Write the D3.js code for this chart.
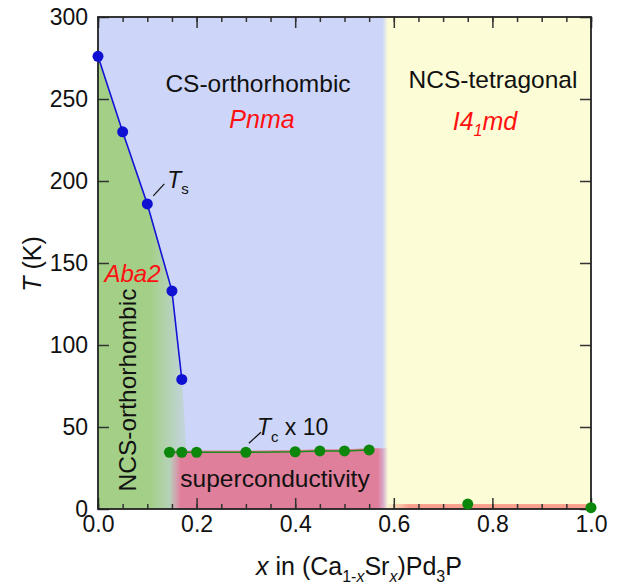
<!DOCTYPE html>
<html>
<head>
<meta charset="utf-8">
<script src="https://cdn.jsdelivr.net/npm/d3@7"></script>
<style>
body{margin:0;background:#fff;}
svg text{font-family:"Liberation Sans",Arial,Helvetica,sans-serif;}
</style>
</head>
<body>
<svg id="chart" width="618" height="588"></svg>
<script>
//------------DATA-----------
// structural transition Ts
var tsX=[0.0,0.05,0.10,0.15,0.17];
var tsT=[276,230,186,133,79];
// superconducting Tc (x 10)
var tcX=[0.145,0.17,0.20,0.30,0.40,0.45,0.50,0.55,0.75,1.0];
var tcT=[34.6,34.6,34.6,34.6,34.9,35.4,35.4,36.0,3.0,0.8];
var tcLinked=8; // first 8 points joined by the line
// phase boundaries
var phaseEdge=0.582;   // orthorhombic / tetragonal
var greenFoot=0.187;   // NCS-orthorhombic boundary at T=0
var stripT=3;          // Tc region for tetragonal side
// ticks
var xTicks=[0,0.2,0.4,0.6,0.8,1.0];
var xMinor=d3.range(0,1.0001,0.05);
var yTicks=[0,50,100,150,200,250,300];

//------------SETUP-----------
var margin={"top":17,"left":98};
var chartWidth=493, chartHeight=492;
var xScale=d3.scaleLinear().domain([0,1]).range([margin.left,margin.left+chartWidth]);
var yScale=d3.scaleLinear().domain([0,300]).range([margin.top+chartHeight,margin.top]);
var x0=xScale(0), x1=xScale(1), yTop=yScale(300), yBot=yScale(0);

var colBlue="#cdd6f8", colYellow="#fcfcd6", colGreen="#a3cf87", colPink="#e07f9b", colSalmon="#f9a08c";
var red="#ff1010", ink="#111";

var svg=d3.select("#chart");
var defs=svg.append("defs");
defs.append("clipPath").attr("id","plotClip").append("rect")
    .attr("x",x0).attr("y",yTop).attr("width",chartWidth).attr("height",chartHeight);

function grad(id,from,to,stops){
    var g=defs.append("linearGradient").attr("id",id)
        .attr("gradientUnits","userSpaceOnUse")
        .attr("x1",xScale(from)).attr("x2",xScale(to)).attr("y1",0).attr("y2",0);
    stops.forEach(function(s){
        g.append("stop").attr("offset",(s[0]-from)/(to-from))
            .attr("stop-color",s[1]).attr("stop-opacity",s[2]==null?1:s[2]);
    });
}
grad("greenGrad",0.105,0.2,[[0.105,colGreen],[0.2,colBlue]]);
grad("yellowGrad",phaseEdge-0.005,phaseEdge+0.006,[[phaseEdge-0.005,colBlue],[phaseEdge+0.006,colYellow]]);
grad("pinkGrad",0.145,0.588,[[0.145,colPink,0],[0.168,colPink,1],[0.568,colPink,1],[0.588,colPink,0]]);
grad("stripGrad",phaseEdge,0.63,[[phaseEdge,colSalmon,0],[0.63,colSalmon,1]]);

var plot=svg.append("g").attr("clip-path","url(#plotClip)");

//------------REGIONS-----------
plot.append("rect").attr("x",x0).attr("y",yTop)
    .attr("width",xScale(phaseEdge)-x0).attr("height",chartHeight).attr("fill",colBlue);
plot.append("rect").attr("x",xScale(phaseEdge-0.005)).attr("y",yTop)
    .attr("width",x1-xScale(phaseEdge-0.005)).attr("height",chartHeight).attr("fill","url(#yellowGrad)");

var greenPts=tsX.map(function(v,i){return [v,tsT[i]];});
greenPts.push([greenFoot,0]);
greenPts.push([0,0]);
plot.append("path")
    .attr("d",d3.line().x(function(d){return xScale(d[0]);}).y(function(d){return yScale(d[1]);})(greenPts)+"Z")
    .attr("fill","url(#greenGrad)");

var pinkPts=[];
for(var i=0;i<tcLinked;i++) pinkPts.push([tcX[i],tcT[i]+1]);
pinkPts.push([phaseEdge+0.006,tcT[tcLinked-1]+1]);
plot.append("path")
    .attr("d",d3.area().x(function(d){return xScale(d[0]);}).y0(yBot).y1(function(d){return yScale(d[1]);})(pinkPts))
    .attr("fill","url(#pinkGrad)");

plot.append("rect").attr("x",xScale(phaseEdge)).attr("y",yScale(stripT))
    .attr("width",x1-xScale(phaseEdge)).attr("height",yBot-yScale(stripT)).attr("fill","url(#stripGrad)");

//------------AXES-----------
function styleAxis(g){
    g.select(".domain").remove();
    g.selectAll(".tick line").attr("stroke","#333").attr("stroke-width",1.5);
    g.selectAll(".tick text").style("font-size","23px").style("fill",ink);
}
svg.append("g").attr("transform","translate(0,"+yBot+")")
    .call(d3.axisBottom(xScale).tickValues(xMinor).tickSize(-5).tickFormat("")).call(styleAxis);
svg.append("g").attr("transform","translate(0,"+yTop+")")
    .call(d3.axisTop(xScale).tickValues(xMinor).tickSize(-5).tickFormat("")).call(styleAxis);
svg.append("g").attr("transform","translate(0,"+yBot+")")
    .call(d3.axisBottom(xScale).tickValues(xTicks).tickSize(-11).tickPadding(7).tickFormat(d3.format(".1f"))).call(styleAxis);
svg.append("g").attr("transform","translate(0,"+yTop+")")
    .call(d3.axisTop(xScale).tickValues(xTicks).tickSize(-11).tickFormat("")).call(styleAxis);
svg.append("g").attr("transform","translate("+x0+",0)")
    .call(d3.axisLeft(yScale).tickValues(yTicks).tickSize(-11).tickPadding(10)).call(styleAxis);
svg.append("g").attr("transform","translate("+x1+",0)")
    .call(d3.axisRight(yScale).tickValues(yTicks).tickSize(-11).tickFormat("")).call(styleAxis);

svg.append("rect").attr("x",x0).attr("y",yTop).attr("width",chartWidth).attr("height",chartHeight)
    .attr("fill","none").attr("stroke","#222").attr("stroke-width",1.8);

//------------DATA LINES-----------
var tsLine=d3.line().x(function(d,i){return xScale(tsX[i]);}).y(function(d){return yScale(d);});
svg.append("path").attr("d",tsLine(tsT)).attr("fill","none").attr("stroke","#1414d6").attr("stroke-width",1.6);
svg.selectAll("circle.ts").data(tsT).enter().append("circle").attr("class","ts")
    .attr("cx",function(d,i){return xScale(tsX[i]);}).attr("cy",function(d){return yScale(d);})
    .attr("r",5.5).attr("fill","#1010d2");

var tcLine=d3.line().x(function(d,i){return xScale(tcX[i]);}).y(function(d){return yScale(d);});
svg.append("path").attr("d",tcLine(tcT.slice(0,tcLinked))).attr("fill","none").attr("stroke","#1a8a1a").attr("stroke-width",1.6);
svg.selectAll("circle.tc").data(tcT).enter().append("circle").attr("class","tc")
    .attr("cx",function(d,i){return xScale(tcX[i]);}).attr("cy",function(d){return yScale(d);})
    .attr("r",5.5).attr("fill","#0b870b");

//------------LABELS-----------
function label(txt,px,py,size,color,italic){
    return svg.append("text").attr("x",px).attr("y",py).text(txt)
        .style("font-size",size+"px").style("fill",color||ink)
        .style("font-style",italic?"italic":"normal")
        .attr("text-anchor","middle");
}
label("CS-orthorhombic",258,92,24.5);
label("Pnma",262,128,25,red,true);
label("NCS-tetragonal",493,88,24.5);
var i4=svg.append("text").attr("x",485).attr("y",130).attr("text-anchor","middle")
    .style("font-size","25px").style("font-style","italic").style("fill",red);
i4.append("tspan").text("I4");
i4.append("tspan").text("1").attr("dy",6).style("font-size","16px");
i4.append("tspan").text("md").attr("dy",-6);
label("Aba2",132.5,282,24,red,true);
svg.append("text").attr("transform","translate(136,390) rotate(-90)").attr("text-anchor","middle")
    .style("font-size","24.5px").style("fill",ink).text("NCS-orthorhombic");
label("superconductivity",275,487,24.5);

// Ts annotation
var pTs=[xScale(tsX[2]),yScale(tsT[2])];
svg.append("line").attr("x1",pTs[0]+6).attr("y1",pTs[1]-8).attr("x2",pTs[0]+17).attr("y2",pTs[1]-20)
    .attr("stroke",ink).attr("stroke-width",1.2);
var tsTxt=svg.append("text").attr("x",pTs[0]+20).attr("y",pTs[1]-16).style("font-size","23px").style("fill",ink);
tsTxt.append("tspan").text("T").style("font-style","italic");
tsTxt.append("tspan").text("s").attr("dy",6).style("font-size","15px");

// Tc annotation
var pTc=[xScale(tcX[3]),yScale(tcT[3])];
svg.append("line").attr("x1",pTc[0]+3).attr("y1",pTc[1]-9).attr("x2",pTc[0]+15).attr("y2",pTc[1]-20)
    .attr("stroke",ink).attr("stroke-width",1.2);
var tcTxt=svg.append("text").attr("x",pTc[0]+11).attr("y",pTc[1]-17).style("font-size","23px").style("fill",ink);
tcTxt.append("tspan").text("T").style("font-style","italic");
tcTxt.append("tspan").text("c").attr("dy",7).style("font-size","15px");
tcTxt.append("tspan").text(" x 10").attr("dy",-7);

// axis titles
var yt=svg.append("text").attr("transform","translate(41,264) rotate(-90)").attr("text-anchor","middle")
    .style("font-size","25px").style("fill",ink);
yt.append("tspan").text("T").style("font-style","italic");
yt.append("tspan").text(" (K)");

var xt=svg.append("text").attr("x",359).attr("y",575).attr("text-anchor","middle").style("font-size","25px").style("fill",ink);
xt.append("tspan").text("x").style("font-style","italic");
xt.append("tspan").text(" in (Ca");
xt.append("tspan").text("1-").attr("dy",7).style("font-size","16px");
xt.append("tspan").text("x").style("font-size","16px").style("font-style","italic");
xt.append("tspan").text("Sr").attr("dy",-7);
xt.append("tspan").text("x").attr("dy",7).style("font-size","16px").style("font-style","italic");
xt.append("tspan").text(")Pd").attr("dy",-7);
xt.append("tspan").text("3").attr("dy",7).style("font-size","16px");
xt.append("tspan").text("P").attr("dy",-7);
</script>
</body>
</html>
